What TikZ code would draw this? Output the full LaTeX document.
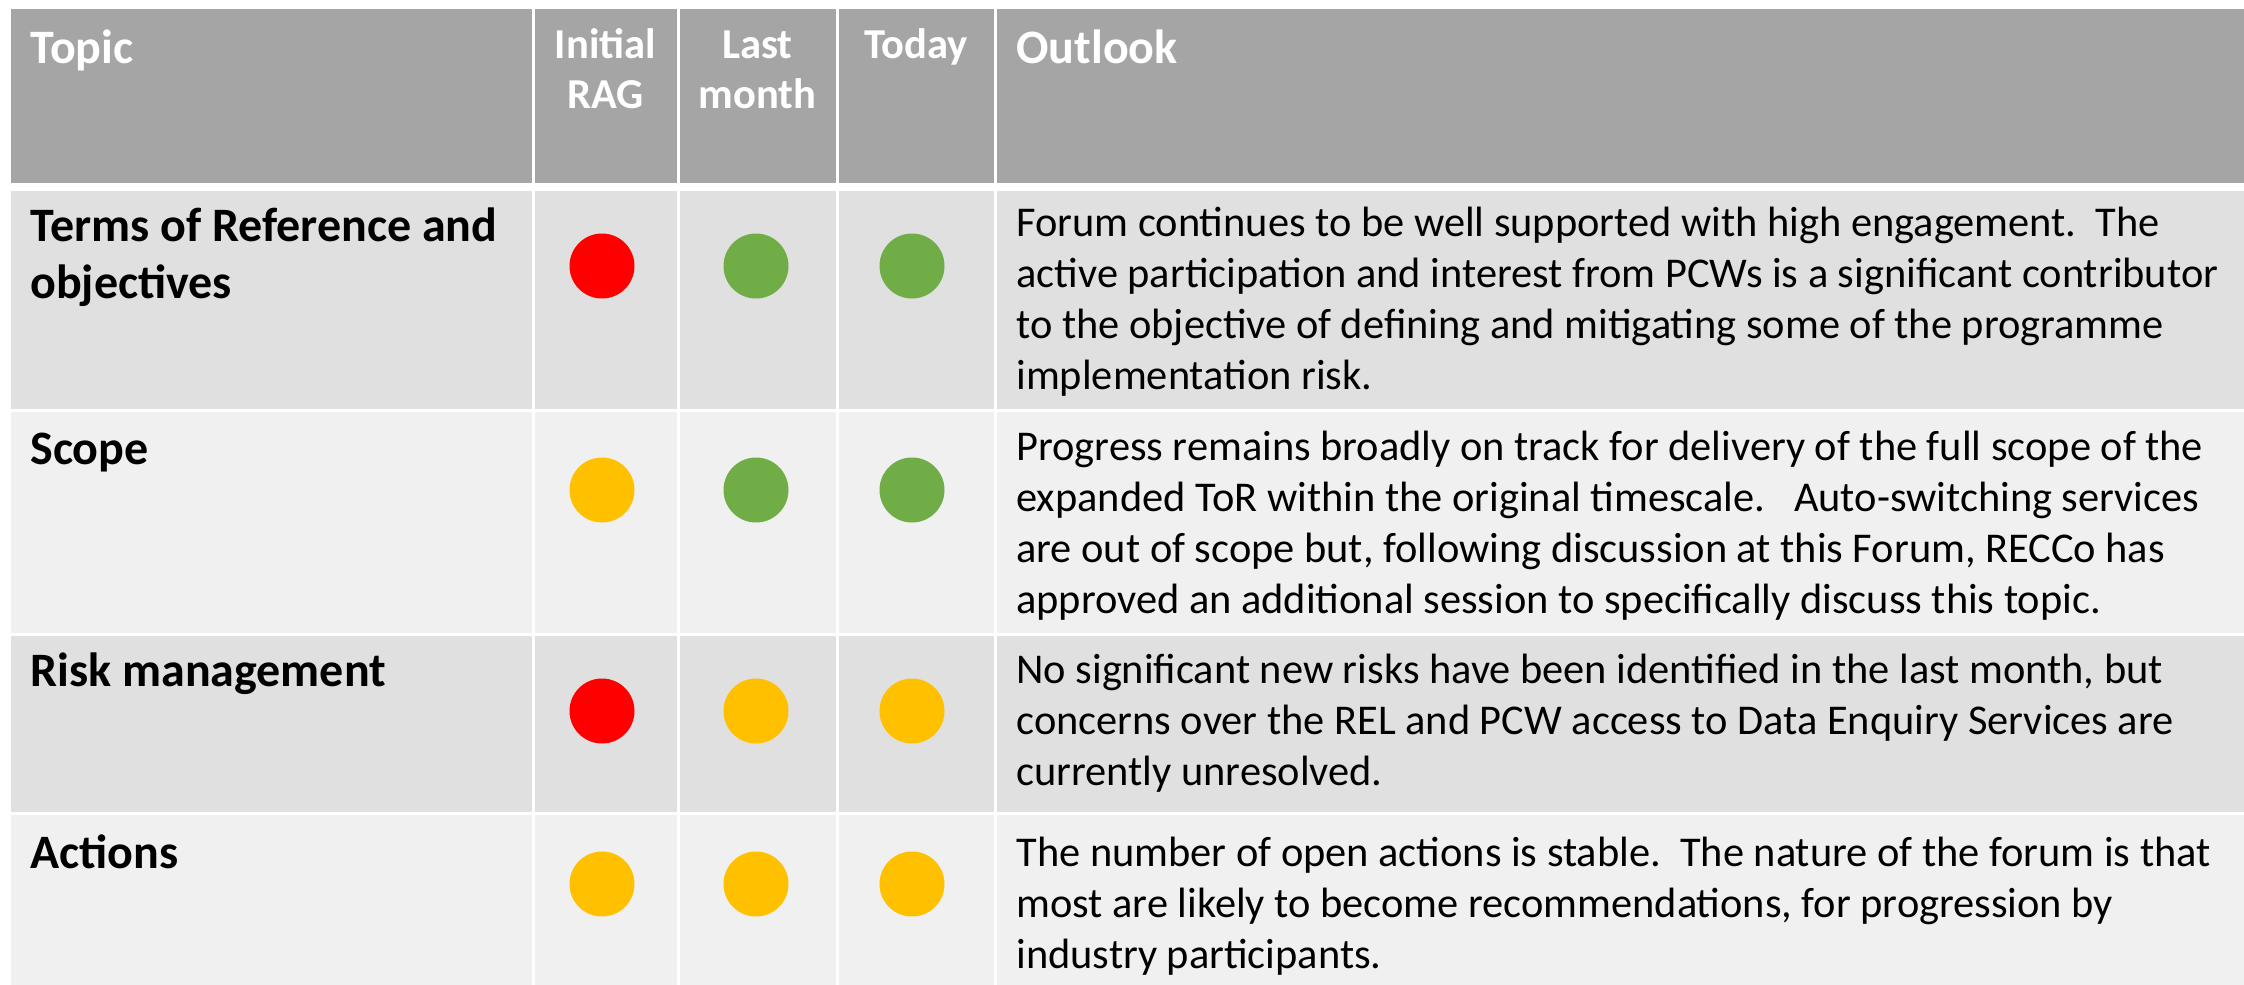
\documentclass[tikz,border=0pt]{standalone}
\usepackage{fontspec}
\setmainfont{Carlito}
\definecolor{hdrgray}{HTML}{A5A5A5}
\definecolor{rowA}{HTML}{E0E0E0}
\definecolor{rowB}{HTML}{F0F0F0}
\definecolor{ragred}{HTML}{FF0000}
\definecolor{ragamber}{HTML}{FFC000}
\definecolor{raggreen}{HTML}{70AD47}
\begin{document}
\begin{tikzpicture}[x=0.5pt,y=-0.5pt,
  hdr/.style={font=\fontsize{24}{28}\selectfont\bfseries, text=white, inner sep=0pt, anchor=base west},
  hdrc/.style={font=\fontsize{21.3}{25}\selectfont\bfseries, text=white, inner sep=0pt, anchor=base},
  topic/.style={font=\fontsize{24}{29}\selectfont\bfseries, inner sep=0pt, anchor=base west},
  body/.style={font=\fontsize{21.2}{25.5}\selectfont, inner sep=0pt, anchor=base west},
  dot/.style={circle, minimum size=32.5pt, inner sep=0pt},
  sep/.style={white, line width=1.5pt}]
\useasboundingbox[fill=white] (0,0) rectangle (2244,985);
% cells
\fill[hdrgray] (11,9) rectangle (2244,183);
\fill[rowA] (11,191) rectangle (2244,409);
\fill[rowB] (11,412) rectangle (2244,633);
\fill[rowA] (11,636) rectangle (2244,812);
\fill[rowB] (11,815) rectangle (2244,985);
\foreach \cx in {533,678,837,995} \draw[sep] (\cx,9) -- (\cx,985);
% header
\node[hdr] (hTopic) at (30,63) {Topic};
\node[hdrc] (hInit1) at (605.5,58) {Initial};
\node[hdrc] (hInit2) at (605.5,108) {RAG};
\node[hdrc] (hLast1) at (757.5,58) {Last};
\node[hdrc] (hLast2) at (757.5,108) {month};
\node[hdrc] (hToday) at (916,58) {Today};
\node[hdr] (hOut) at (1016,63) {Outlook};
% topics
\node[topic] (t1a) at (30,241) {Terms of Reference and};
\node[topic] (t1b) at (30,298) {objectives};
\node[topic] (t2) at (30,464) {Scope};
\node[topic] (t3) at (30,686) {Risk management};
\node[topic] (t4) at (30,868) {Actions};
% dots
\node[dot, fill=ragred]    (d11) at (602,266) {};
\node[dot, fill=raggreen]  (d12) at (756,266) {};
\node[dot, fill=raggreen]  (d13) at (912,266) {};
\node[dot, fill=ragamber]  (d21) at (602,490) {};
\node[dot, fill=raggreen]  (d22) at (756,490) {};
\node[dot, fill=raggreen]  (d23) at (912,490) {};
\node[dot, fill=ragred]    (d31) at (602,711) {};
\node[dot, fill=ragamber]  (d32) at (756,711) {};
\node[dot, fill=ragamber]  (d33) at (912,711) {};
\node[dot, fill=ragamber]  (d41) at (602,884) {};
\node[dot, fill=ragamber]  (d42) at (756,884) {};
\node[dot, fill=ragamber]  (d43) at (912,884) {};
% outlook texts
\foreach \l [count=\i] in {%
  {Forum continues to be well supported with high engagement.\ \ The},
  {active participation and interest from PCWs is a significant contributor},
  {to the objective of defining and mitigating some of the programme},
  {implementation risk.}}
  \node[body] (o1l\i) at (1016,{236+51*(\i-1)}) {\l};
\foreach \l [count=\i] in {%
  {Progress remains broadly on track for delivery of the full scope of the},
  {expanded ToR within the original timescale.\ \ \ Auto-switching services},
  {are out of scope but, following discussion at this Forum, RECCo has},
  {approved an additional session to specifically discuss this topic.}}
  \node[body] (o2l\i) at (1016,{460+51*(\i-1)}) {\l};
\foreach \l [count=\i] in {%
  {No significant new risks have been identified in the last month, but},
  {concerns over the REL and PCW access to Data Enquiry Services are},
  {currently unresolved.}}
  \node[body] (o3l\i) at (1016,{683+51*(\i-1)}) {\l};
\foreach \l [count=\i] in {%
  {The number of open actions is stable.\ \ The nature of the forum is that},
  {most are likely to become recommendations, for progression by},
  {industry participants.}}
  \node[body] (o4l\i) at (1016,{866+51*(\i-1)}) {\l};
\end{tikzpicture}
\end{document}
